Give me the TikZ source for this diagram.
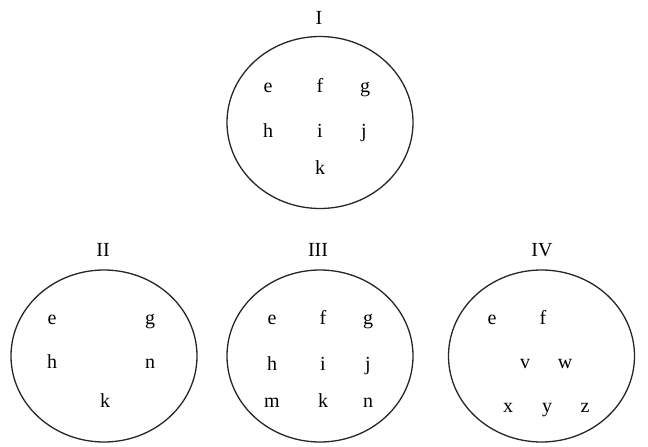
\documentclass[tikz,border=0pt]{standalone}
\usepackage{fontspec}
\setmainfont{Liberation Serif}
\usetikzlibrary{shapes.geometric}
\begin{document}
\begin{tikzpicture}[x=1pt,y=-1pt,
  setoval/.style={draw=black!85,line width=1.3pt,ellipse,minimum width=186pt,minimum height=172pt,inner sep=0pt},
  elem/.style={font=\fontsize{20}{24}\selectfont,inner sep=0pt,anchor=base},
  ttl/.style={font=\fontsize{20}{24}\selectfont,inner sep=0pt,anchor=base}]
\useasboundingbox (0,0) rectangle (648,447);
% Set I
\node[setoval] (c1) at (320,122.5) {};
\node[ttl] (t1) at (319,24) {I};
\node[elem] (a1) at (268,92) {e};
\node[elem] (a2) at (320,92) {f};
\node[elem] (a3) at (365,92) {g};
\node[elem] (a4) at (268,137) {h};
\node[elem] (a5) at (320,137) {i};
\node[elem] (a6) at (364,137) {j};
\node[elem] (a7) at (320,174) {k};
% Set II
\node[setoval] (c2) at (104,356) {};
\node[ttl] (t2) at (103,256) {II};
\node[elem] (b1) at (52,324) {e};
\node[elem] (b2) at (150,324) {g};
\node[elem] (b3) at (52,368) {h};
\node[elem] (b4) at (150,368) {n};
\node[elem] (b5) at (105,407) {k};
% Set III
\node[setoval] (c3) at (320,356) {};
\node[ttl] (t3) at (318,256) {III};
\node[elem] (d1) at (272,324) {e};
\node[elem] (d2) at (323,324) {f};
\node[elem] (d3) at (368,324) {g};
\node[elem] (d4) at (272,370) {h};
\node[elem] (d5) at (323,370) {i};
\node[elem] (d6) at (368,370) {j};
\node[elem] (d7) at (272,407) {m};
\node[elem] (d8) at (323,407) {k};
\node[elem] (d9) at (368,407) {n};
% Set IV
\node[setoval] (c4) at (541.5,356) {};
\node[ttl] (t4) at (542,256) {IV};
\node[elem] (e1) at (492,324) {e};
\node[elem] (e2) at (543,324) {f};
\node[elem] (e3) at (525,368) {v};
\node[elem] (e4) at (565,368) {w};
\node[elem] (e5) at (508,412) {x};
\node[elem] (e6) at (547,412) {y};
\node[elem] (e7) at (585,412) {z};
\end{tikzpicture}
\end{document}
